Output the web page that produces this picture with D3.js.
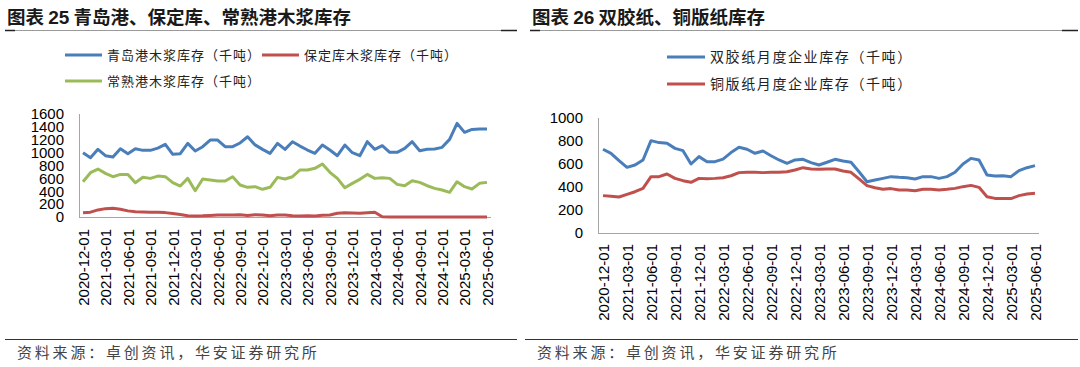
<!DOCTYPE html>
<html>
<head>
<meta charset="utf-8">
<script src="https://cdn.jsdelivr.net/npm/d3@7"></script>
<style>
  body { margin: 0; background: #fff; }
  svg { display: block; }
  .tick text { font-family: "Liberation Sans", Arial, sans-serif; font-size: 15px; fill: #000; }
  .cn { font-family: "Noto Sans CJK SC", sans-serif; }
</style>
</head>
<body>
<svg id="chart" width="1080" height="367"></svg>
<script>
// months shared by both panels (category axis)
var months = [
  "2020-12-01",
  "2021-01-01","2021-02-01","2021-03-01","2021-04-01","2021-05-01","2021-06-01","2021-07-01","2021-08-01","2021-09-01","2021-10-01","2021-11-01","2021-12-01",
  "2022-01-01","2022-02-01","2022-03-01","2022-04-01","2022-05-01","2022-06-01","2022-07-01","2022-08-01","2022-09-01","2022-10-01","2022-11-01","2022-12-01",
  "2023-01-01","2023-02-01","2023-03-01","2023-04-01","2023-05-01","2023-06-01","2023-07-01","2023-08-01","2023-09-01","2023-10-01","2023-11-01","2023-12-01",
  "2024-01-01","2024-02-01","2024-03-01","2024-04-01","2024-05-01","2024-06-01","2024-07-01","2024-08-01","2024-09-01","2024-10-01","2024-11-01","2024-12-01",
  "2025-01-01","2025-02-01","2025-03-01","2025-04-01","2025-05-01","2025-06-01"
];
var xTickLabels = ["2020-12-01","2021-03-01","2021-06-01","2021-09-01","2021-12-01","2022-03-01","2022-06-01",
  "2022-09-01","2022-12-01","2023-03-01","2023-06-01","2023-09-01","2023-12-01","2024-03-01","2024-06-01",
  "2024-09-01","2024-12-01","2025-03-01","2025-06-01"];

// chart 25 - pulp stocks (thousand tonnes)
var qingdao = [998,921,1051,952,932,1061,983,1061,1035,1035,1070,1129,973,983,1144,1025,1092,1196,1196,1092,
  1092,1150,1247,1120,1050,989,1144,1051,1170,1102,1040,989,1118,1040,952,1118,999,952,1170,1051,
  1108,1004,1004,1066,1170,1030,1051,1056,1082,1206,1455,1315,1361,1366,1366];
var baoding = [67,75,110,130,135,120,95,80,78,75,72,68,55,40,20,15,18,25,30,30,
  32,35,25,35,31,21,31,31,21,16,21,16,26,31,57,67,62,57,67,73,
  5,0,0,0,0,0,0,0,0,0,0,0,0,0,0];
var changshu = [548,688,745,678,626,662,662,533,616,600,636,626,533,481,600,408,590,574,559,559,
  626,497,461,471,430,461,616,590,626,730,730,756,823,694,600,455,523,585,662,600,
  610,600,507,486,564,538,486,445,419,383,548,471,435,523,538];
var leftTicks = [0,200,400,600,800,1000,1200,1400,1600];

// chart 26 - paper stocks (thousand tonnes)
var woodfree = [728,693,629,571,591,635,803,786,780,736,716,600,664,620,620,643,699,745,728,693,
  713,672,635,606,635,641,612,591,615,641,626,615,533,446,461,475,490,484,481,470,
  490,490,475,490,528,600,649,635,504,496,498,490,542,568,586];
var coated = [325,319,313,336,359,388,490,490,513,475,455,441,475,472,475,481,498,525,528,528,
  525,528,528,533,548,568,557,554,557,557,539,528,470,412,394,380,386,374,374,368,
  380,380,374,380,388,403,414,397,316,301,299,299,325,339,345];
var rightTicks = [0,200,400,600,800,1000];

var blue = "#4a7ebb", red = "#c0504d", green = "#9bbb59";

var svg = d3.select("#chart");

// ---------- headers and footers ----------
function header(x0, x1, num, txt) {
  var t = svg.append("text").attr("class", "cn").attr("x", x0 + 2).attr("y", 24)
    .style("font-size", "18.5px").style("font-weight", "bold").attr("fill", "#1a1a1a");
  t.append("tspan").text("图表 ");
  t.append("tspan").style("font-family", "'Liberation Sans', Arial, sans-serif").style("font-size", "19px").text(num);
  t.append("tspan").text(" " + txt);
  svg.append("line").attr("x1", x0).attr("x2", x1).attr("y1", 30.5).attr("y2", 30.5)
    .attr("stroke", "#9a9a9a").attr("stroke-width", 1);
  svg.append("line").attr("x1", x0).attr("x2", x0 + 10).attr("y1", 30.5).attr("y2", 30.5)
    .attr("stroke", "#222").attr("stroke-width", 1.5);
  svg.append("line").attr("x1", x1 - 16).attr("x2", x1).attr("y1", 30.5).attr("y2", 30.5)
    .attr("stroke", "#222").attr("stroke-width", 1.5);
}
header(5, 517, "25", "青岛港、保定库、常熟港木浆库存");
header(530, 1078, "26", "双胶纸、铜版纸库存");

function footer(x0, x1) {
  svg.append("line").attr("x1", x0).attr("x2", x1).attr("y1", 339.5).attr("y2", 339.5)
    .attr("stroke", "#333").attr("stroke-width", 1.2);
  svg.append("text").attr("class", "cn").attr("x", x0 + 12).attr("y", 358)
    .style("font-size", "15px").style("letter-spacing", "2.8px").attr("fill", "#444")
    .text("资料来源：卓创资讯，华安证券研究所");
}
footer(5, 517);
footer(525, 1078);

// ---------- generic panel ----------
function panel(cfg) {
  var x = d3.scalePoint().domain(months).range([cfg.x0, cfg.x1]);
  var y = d3.scaleLinear().domain([0, cfg.yMax]).range([cfg.yBottom, cfg.yTop]);
  var g = svg.append("g");

  // axis lines
  g.append("line").attr("x1", cfg.axisLeft + 0.5).attr("x2", cfg.axisLeft + 0.5)
    .attr("y1", cfg.yTop).attr("y2", cfg.yBottom).attr("stroke", "#a6a6a6");
  g.append("line").attr("x1", cfg.axisLeft).attr("x2", cfg.axisRight)
    .attr("y1", cfg.yBottom + 0.5).attr("y2", cfg.yBottom + 0.5).attr("stroke", "#a6a6a6");

  // y axis labels
  var ya = g.append("g").attr("transform", "translate(" + cfg.axisLeft + ",0)")
    .call(d3.axisLeft(y).tickValues(cfg.ticks).tickFormat(d3.format("d")).tickSize(0).tickPadding(cfg.yPad));
  ya.select(".domain").remove();

  // x axis labels, rotated
  var xa = g.append("g").attr("transform", "translate(0," + cfg.yBottom + ")")
    .call(d3.axisBottom(x).tickValues(xTickLabels).tickSize(0));
  xa.select(".domain").remove();
  xa.selectAll("text")
    .attr("transform", "rotate(-90)")
    .attr("x", -cfg.xPad).attr("y", 0).attr("dy", "0.36em")
    .style("text-anchor", "end");

  var line = d3.line().x(function(d, i) { return x(months[i]); }).y(function(d) { return y(d); });
  cfg.series.forEach(function(s) {
    g.append("path").datum(s.values)
      .attr("d", line)
      .attr("fill", "none")
      .attr("stroke", s.color)
      .attr("stroke-width", 3)
      .attr("stroke-linejoin", "round");
  });

  // legend
  cfg.series.forEach(function(s) {
    g.append("line").attr("x1", s.lx).attr("x2", s.lx + cfg.legLen)
      .attr("y1", s.ly).attr("y2", s.ly).attr("stroke", s.color).attr("stroke-width", 3);
    g.append("text").attr("class", "cn").attr("x", s.lx + cfg.legLen + 5).attr("y", s.ly + 5)
      .style("font-size", cfg.legFont + "px").style("letter-spacing", cfg.legSpace + "px")
      .attr("fill", "#222").text(s.name);
  });
}

panel({
  x0: 83, x1: 487, axisLeft: 79, axisRight: 491,
  yMax: 1600, yBottom: 217, yTop: 114, ticks: leftTicks, yPad: 15, xPad: 12,
  legLen: 37, legFont: 13, legSpace: 1,
  series: [
    { name: "青岛港木浆库存（千吨）", values: qingdao, color: blue, lx: 65, ly: 55 },
    { name: "保定库木浆库存（千吨）", values: baoding, color: red, lx: 262, ly: 55 },
    { name: "常熟港木浆库存（千吨）", values: changshu, color: green, lx: 65, ly: 81 }
  ]
});

panel({
  x0: 603, x1: 1035, axisLeft: 598, axisRight: 1039,
  yMax: 1000, yBottom: 233, yTop: 118, ticks: rightTicks, yPad: 15, xPad: 11,
  legLen: 38, legFont: 14, legSpace: 1.6,
  series: [
    { name: "双胶纸月度企业库存（千吨）", values: woodfree, color: blue, lx: 667, ly: 57 },
    { name: "铜版纸月度企业库存（千吨）", values: coated, color: red, lx: 667, ly: 84 }
  ]
});
</script>
</body>
</html>
